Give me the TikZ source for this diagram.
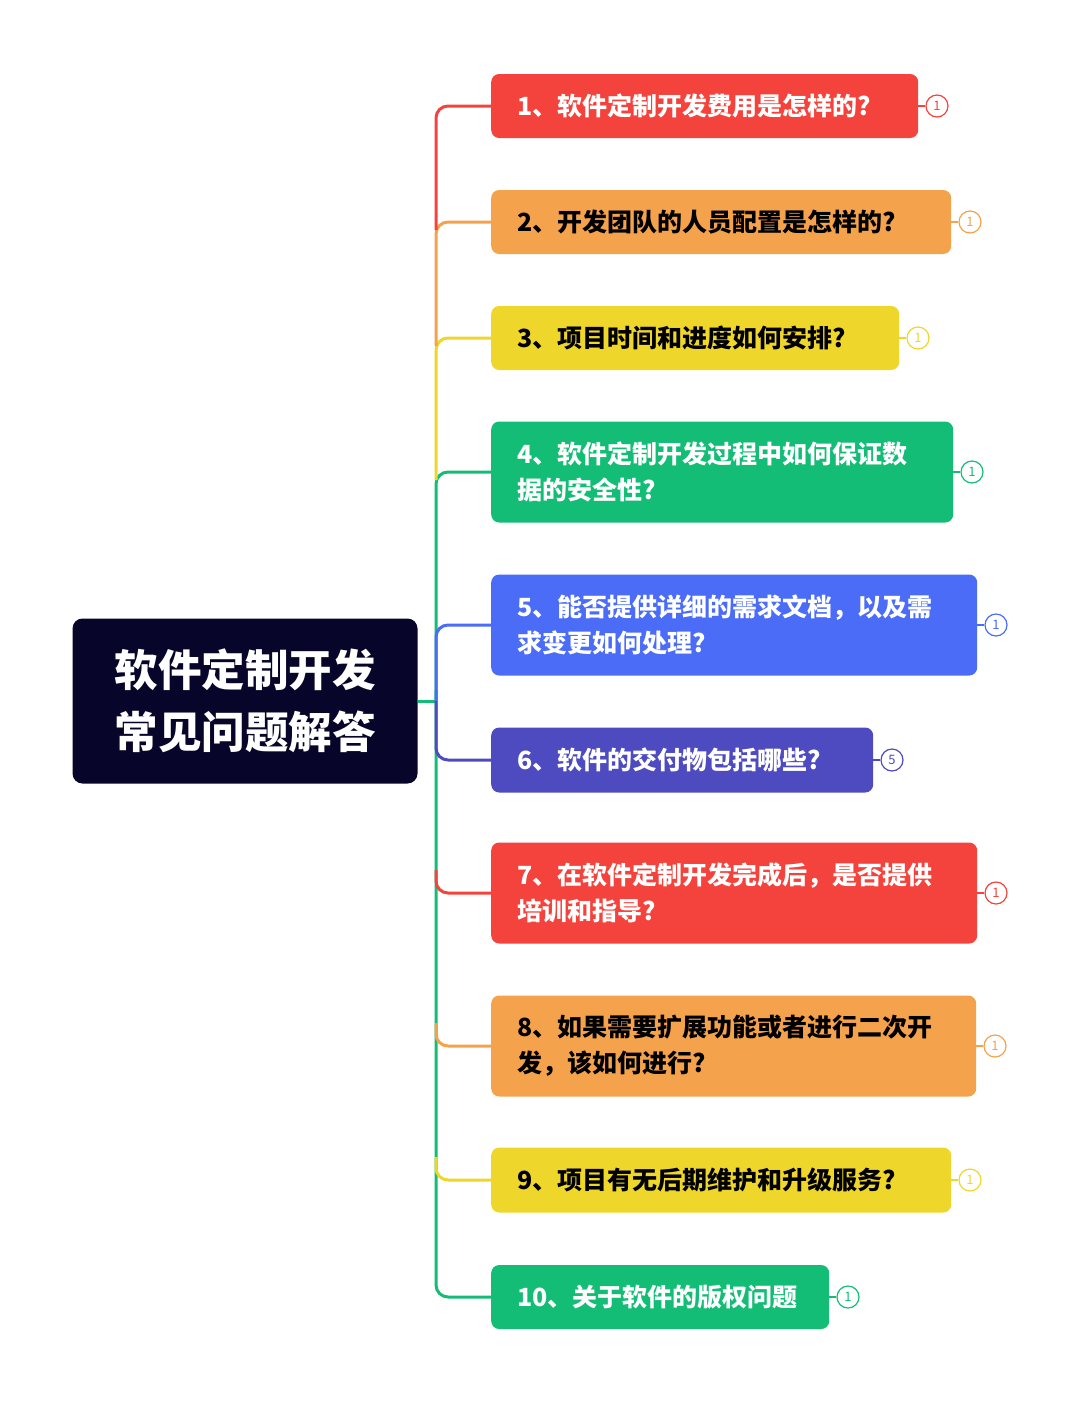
\documentclass[tikz,border=0pt]{standalone}
\usepackage{fontspec}
\setmainfont{Noto Sans CJK SC}
\definecolor{cR}{HTML}{F4433C}
\definecolor{cO}{HTML}{F4A24C}
\definecolor{cY}{HTML}{EED62A}
\definecolor{cG}{HTML}{13BD76}
\definecolor{cB}{HTML}{4A6CF7}
\definecolor{cP}{HTML}{4D4BBF}
\definecolor{cK}{HTML}{07062A}
\begin{document}
\begin{tikzpicture}[x=1pt,y=-1pt,
 box/.style={fill=#1,rounded corners=8pt,anchor=west,align=left,font=\fontsize{25}{36}\selectfont\bfseries},
 ln/.style={draw=#1,line width=3pt,rounded corners=12pt},
 mk/.style={draw=#1,circle,line width=1.2pt,minimum size=22pt,inner sep=0pt,font=\fontsize{13}{13}\selectfont,text=#1}]
\useasboundingbox (0,0) rectangle (1080,1403);
\node[fill=cK,rounded corners=10pt,minimum width=345pt,minimum height=165pt,text=white,align=center,font=\fontsize{43.5}{62}\selectfont\bfseries] (root) at (245,701) {软件定制开发\\常见问题解答};
\def\qbox#1#2#3#4#5#6#7{%
 \pgfmathsetmacro\tw{#4-52}%
 \node[box=#2,text=#3,minimum width=#4pt,minimum height=#5pt,text width=\tw pt,inner xsep=26pt] (b#1) at (491,#6) {#7};}
\qbox{1}{cR}{white}{427}{64}{106}{1、软件定制开发费用是怎样的?}
\qbox{2}{cO}{black}{460}{64}{222}{2、开发团队的人员配置是怎样的?}
\qbox{3}{cY}{black}{408}{64}{338}{3、项目时间和进度如何安排?}
\qbox{4}{cG}{white}{462}{101}{472}{4、软件定制开发过程中如何保证数\\据的安全性?}
\qbox{5}{cB}{white}{486}{101}{625}{5、能否提供详细的需求文档，以及需\\求变更如何处理?}
\qbox{6}{cP}{white}{382}{65}{760}{6、软件的交付物包括哪些?}
\qbox{7}{cR}{white}{486}{101}{893}{7、在软件定制开发完成后，是否提供\\培训和指导?}
\qbox{8}{cO}{black}{485}{101}{1046}{8、如果需要扩展功能或者进行二次开\\发，该如何进行?}
\qbox{9}{cY}{black}{460}{65}{1180}{9、项目有无后期维护和升级服务?}
\qbox{10}{cG}{white}{338}{64}{1297}{10、关于软件的版权问题}
\coordinate (j) at (436,701);
\draw[ln=cG] (root.east) -- (j);
\draw[ln=cG] (436,700) |- (b4.west);
\draw[ln=cG] (436,690) |- (b10.west);
\draw[ln=cY] (436,480) |- (b3.west);
\draw[ln=cO] (436,346) |- (b2.west);
\draw[ln=cR] (436,230) |- (b1.west);
\draw[ln=cB] (j) |- (b5.west);
\draw[ln=cP] (j) |- (b6.west);
\draw[ln=cR] (436,870) |- (b7.west);
\draw[ln=cO] (436,1023) |- (b8.west);
\draw[ln=cY] (436,1157) |- (b9.west);
\foreach \i/\c/\n in {1/cR/1,2/cO/1,3/cY/1,4/cG/1,5/cB/1,6/cP/5,7/cR/1,8/cO/1,9/cY/1,10/cG/1}{
 \node[mk=\c,anchor=west] (m\i) at ([xshift=7pt]b\i.east) {\n};
 \draw[draw=\c,line width=1.2pt] (b\i.east) -- (m\i.west);}
\end{tikzpicture}
\end{document}
